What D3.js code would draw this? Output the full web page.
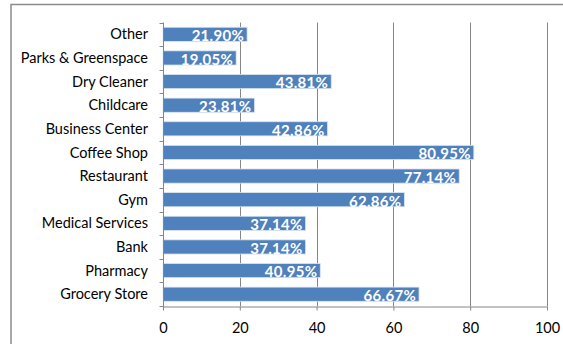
<!DOCTYPE html>
<html>
<head>
<meta charset="utf-8">
<script src="https://cdn.jsdelivr.net/npm/d3@7"></script>
<style>
  html, body { margin: 0; padding: 0; background: #fff; }
  svg { display: block; }
</style>
</head>
<body>
<svg id="chart" width="563" height="344"></svg>
<script>
// Amenity categories, listed top to bottom
const categories = [
  "Other", "Parks & Greenspace", "Dry Cleaner", "Childcare", "Business Center",
  "Coffee Shop", "Restaurant", "Gym", "Medical Services", "Bank", "Pharmacy", "Grocery Store"
];
// Share of respondents (%) for each category
const values = [21.90, 19.05, 43.81, 23.81, 42.86, 80.95, 77.14, 62.86, 37.14, 37.14, 40.95, 66.67];
// X axis ticks
const xTicks = [0, 20, 40, 60, 80, 100];

const data = categories.map((c, i) => ({ name: c, value: values[i] }));

const svg = d3.select("#chart");
const font = "Lato, 'Open Sans', sans-serif";
const gridColor = "#868686";

const plotLeft = 163, plotRight = 547, plotTop = 22.5, plotBottom = 306;

// Outer chart frame
svg.append("rect")
  .attr("x", 11).attr("y", 4.5)
  .attr("width", 600).attr("height", 400)
  .attr("fill", "none")
  .attr("stroke", "#8c8c8c")
  .attr("stroke-width", 1.5);

const x = d3.scaleLinear().domain([0, 100]).range([plotLeft, plotRight]);
const y = d3.scaleBand().domain(categories).range([plotTop, plotBottom]).paddingInner(0.4).paddingOuter(0.2);
const yEdges = d3.scaleBand().domain(categories).range([plotTop, plotBottom]);

// Vertical gridlines
svg.append("g")
  .selectAll("line")
  .data(xTicks.filter(t => t > 0))
  .join("line")
  .attr("x1", d => Math.round(x(d)) + 0.5).attr("x2", d => Math.round(x(d)) + 0.5)
  .attr("y1", plotTop).attr("y2", plotBottom)
  .attr("stroke", gridColor).attr("stroke-width", 1);

// Bars
svg.append("g")
  .selectAll("rect")
  .data(data)
  .join("rect")
  .attr("x", x(0))
  .attr("y", d => y(d.name))
  .attr("width", d => x(d.value) - x(0))
  .attr("height", y.bandwidth())
  .attr("fill", "#4f81bd")
  .attr("stroke", "#dbe5f1")
  .attr("stroke-width", 0.8);

// Value labels inside bar ends
svg.append("g")
  .selectAll("text")
  .data(data)
  .join("text")
  .attr("x", d => x(d.value) - 3)
  .attr("y", d => y(d.name) + y.bandwidth() - 0.2)
  .attr("text-anchor", "end")
  .attr("fill", "#fff")
  .attr("font-family", font)
  .attr("font-weight", "bold")
  .attr("font-size", 15)
  .attr("letter-spacing", 0.3)
  .text(d => d.value.toFixed(2) + "%");

// X axis
const xAxis = d3.axisBottom(x).tickValues(xTicks).tickSize(4).tickPadding(12).tickSizeOuter(0);
const gx = svg.append("g")
  .attr("transform", `translate(0,${plotBottom + 0.5})`)
  .call(xAxis);
gx.select(".domain").attr("stroke", gridColor);
gx.selectAll(".tick line").attr("stroke", gridColor);
gx.selectAll(".tick text")
  .attr("font-family", font).attr("font-size", 14.5).attr("fill", "#000");

// Y axis line with ticks at category boundaries
const ax = Math.round(plotLeft) + 0.5;
svg.append("line")
  .attr("x1", ax).attr("x2", ax).attr("y1", plotTop).attr("y2", plotBottom + 4)
  .attr("stroke", gridColor);
svg.append("g")
  .selectAll("line")
  .data(categories.concat(["__end"]))
  .join("line")
  .attr("x1", ax - 4).attr("x2", ax)
  .attr("y1", (d, i) => Math.round(i < categories.length ? yEdges(d) : plotBottom) + 0.5)
  .attr("y2", (d, i) => Math.round(i < categories.length ? yEdges(d) : plotBottom) + 0.5)
  .attr("stroke", gridColor);

// Category labels
svg.append("g")
  .selectAll("text")
  .data(categories)
  .join("text")
  .attr("x", 148)
  .attr("y", d => yEdges(d) + yEdges.bandwidth() / 2)
  .attr("dy", "0.35em")
  .attr("text-anchor", "end")
  .attr("font-family", font)
  .attr("font-size", 14.5)
  .attr("fill", "#000")
  .text(d => d);
</script>
</body>
</html>
